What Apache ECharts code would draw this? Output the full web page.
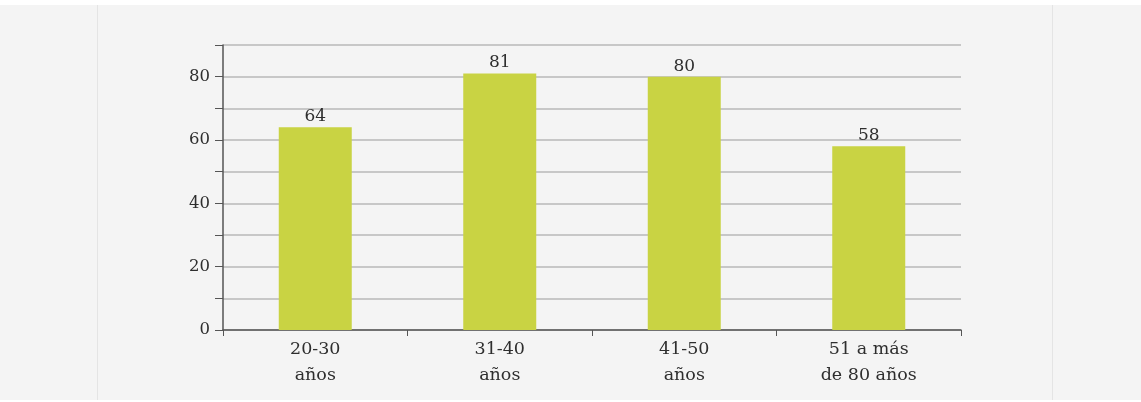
<!DOCTYPE html>
<html>
<head>
<meta charset="utf-8">
<script src="https://cdn.jsdelivr.net/npm/echarts@6/dist/echarts.min.js"></script>
<style>
  html, body { margin: 0; padding: 0; background: #ffffff; }
  #chart { width: 1141px; height: 402px; }
</style>
</head>
<body>
<div id="chart"></div>
<script>
// grupos de edad
const categories = ['20-30\naños', '31-40\naños', '41-50\naños', '51 a más\nde 80 años']
const values = [64, 81, 80, 58]

const chart = echarts.init(document.getElementById('chart'))
const font = 'DejaVu Serif'

chart.setOption({
  animation: false,
  graphic: [
    { type: 'rect', z: -10, shape: { x: 0, y: 5, width: 1141, height: 395 }, style: { fill: '#f4f4f4' } },
    { type: 'line', z: -9, shape: { x1: 97.5, y1: 5, x2: 97.5, y2: 400 }, style: { stroke: '#e4e4e4', lineWidth: 1 } },
    { type: 'line', z: -9, shape: { x1: 1052.5, y1: 5, x2: 1052.5, y2: 400 }, style: { stroke: '#e4e4e4', lineWidth: 1 } }
  ],
  grid: { left: 223, right: 180, top: 45, bottom: 72 },
  xAxis: {
    type: 'category',
    data: categories,
    axisLine: { lineStyle: { color: '#555', width: 1.5 } },
    axisTick: { show: true, length: 6, inside: false, lineStyle: { color: '#555' } },
    axisLabel: { color: '#2e2e2e', fontFamily: font, fontSize: 17.5, lineHeight: 26, margin: 6 }
  },
  yAxis: {
    type: 'value',
    min: 0,
    max: 90,
    interval: 10,
    axisLine: { show: true, lineStyle: { color: '#555', width: 1.5 } },
    axisTick: { show: true, length: 8, lineStyle: { color: '#555' } },
    splitLine: { lineStyle: { color: '#b8b8b8', width: 1.5 } },
    axisLabel: {
      color: '#2e2e2e', fontFamily: font, fontSize: 16.5, margin: 13,
      formatter: v => (v % 20 === 0 && v < 90) ? String(v) : ''
    }
  },
  series: [{
    type: 'bar',
    data: values,
    barWidth: 73,
    itemStyle: { color: '#c9d343' },
    label: { show: true, position: 'top', distance: 2, color: '#2e2e2e', fontFamily: font, fontSize: 17 }
  }]
})
</script>
</body>
</html>
